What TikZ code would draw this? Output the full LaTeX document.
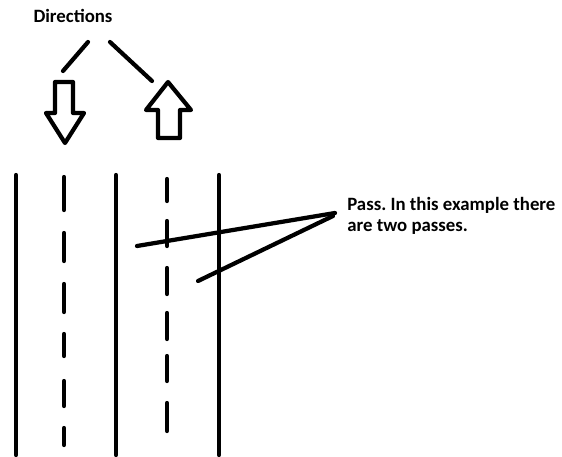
\documentclass[tikz,border=0pt]{standalone}
\usepackage{fontspec}
\setmainfont{Carlito}
\frenchspacing
\tikzset{%
    pen/.style={line width=2.4pt, line cap=round, line join=round},%
    label text/.style={font=\bfseries\fontsize{10.7}{12}\selectfont, inner sep=0pt, align=left}%
}

\begin{document}
\begin{tikzpicture}[x=0.02cm, y=-0.02cm] % road with two passes

    \useasboundingbox (0,0) rectangle (562,457);

    % labels
    \node[label text] (dirs) at (73,16) {Directions};
    \node[label text, anchor=west] (pass) at (347,216) {Pass. In this example there\\are two passes.};

    % lines from "Directions" to the arrows
    \draw[pen] (88,42) -- (63,71);
    \draw[pen] (110,42) -- (152,81);

    % direction arrows
    \draw[pen] (55,82) -- (73,82) -- (73,113) -- (84,113) -- (65,143)
        -- (46,113) -- (55,113) -- cycle;
    \draw[pen] (168,82) -- (191,110) -- (180,110) -- (180,138) -- (158,138)
        -- (158,110) -- (146,110) -- cycle;

    % solid road edges
    \foreach \x in {16,116,219}
        \draw[pen] (\x,175) -- (\x,455);

    % dashed lane markings
    \foreach \a/\b in {177/210,233/261,284/312,334/356,381/406,428/445}
        \draw[pen] (64,\a) -- (64,\b);
    \foreach \a/\b in {179/201,221/246,268/294,313/339,356/381,403/431}
        \draw[pen] (167,\a) -- (167,\b);

    % pointer lines to the passes
    \coordinate (tip) at (335,213);
    \draw[pen] (137,246) -- (tip);
    \draw[pen] (198,281) -- (333,216);

\end{tikzpicture}
\end{document}
